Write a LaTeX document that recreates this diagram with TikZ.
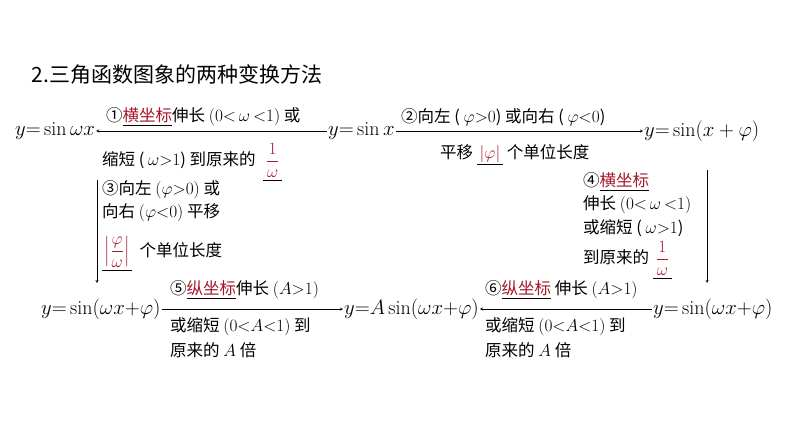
\documentclass[tikz,border=0pt]{standalone}
\usepackage{fontspec}
\usepackage{amsmath,amssymb}
\newfontfamily\cjk{Noto Sans CJK SC}
\definecolor{markred}{RGB}{165,25,40}
\newcommand{\hl}[1]{\underline{\textcolor{markred}{\cjk #1}}}
\newcommand{\fr}[2]{\underline{\,\textcolor{markred}{$\dfrac{#1}{#2}$}\,}}
\tikzset{
  lbl/.style={font=\fontsize{16.5}{19}\selectfont\cjk, inner sep=0pt, anchor=west},
  fn/.style={font=\fontsize{20}{22}\selectfont, inner sep=1pt},
  arr/.style={->,>=stealth, thin}
}
\begin{document}
\begin{tikzpicture}[x=1pt,y=-1pt]
\useasboundingbox (0,0) rectangle (794,447);

\node[anchor=west, font=\fontsize{21}{24}\selectfont\cjk] (title) at (28,75) {2.三角函数图象的两种变换方法};

% top row
\node[fn, anchor=west] (f1) at (14,131) {$y{=}\sin\omega x$};
\node[fn, anchor=west] (f0) at (327,131) {$y{=}\sin x$};
\node[fn, anchor=west] (f2) at (643,131) {$y{=}\sin(x+\varphi)$};
\draw[arr] (f0.west) -- (f1.east);
\draw[arr] (f0.east) -- (f2.west);

\node[lbl] (t1) at (106,117) {①\hl{横坐标}伸长 $(0{<}\,\omega\,{<}1)$ 或};
\node[lbl] (t1b) at (102,162) {缩短 ( $\omega{>}1$) 到原来的 \ \fr{1}{\omega}};
\node[lbl] (t2) at (401,117) {②向左 ( $\varphi{>}0$) 或向右 ( $\varphi{<}0$)};
\node[lbl] (t2b) at (440,155) {平移 \underline{\,\textcolor{markred}{$|\varphi|$}\,} 个单位长度};

% left column
\coordinate (l1) at (97,180);
\coordinate (l2) at (97,283);
\draw[arr] (l1) -- (l2);
\node[lbl] (t3) at (102,190) {③向左 $(\varphi{>}0)$ 或};
\node[lbl] (t3b) at (102,213) {向右 $(\varphi{<}0)$ 平移};
\node[lbl] (t3c) at (102,254) {\underline{\,\textcolor{markred}{$\left|\dfrac{\varphi}{\omega}\right|$}\,} \ 个单位长度};

% right column
\coordinate (r1) at (707,170);
\coordinate (r2) at (707,283);
\draw[arr] (r1) -- (r2);
\node[lbl] (t4) at (583,182) {④\hl{横坐标}};
\node[lbl] (t4b) at (583,205) {伸长 $(0{<}\,\omega\,{<}1)$};
\node[lbl] (t4c) at (583,228) {或缩短 ( $\omega{>}1$)};
\node[lbl] (t4d) at (583,260) {到原来的 \fr{1}{\omega}};

% bottom row
\node[fn, anchor=west] (f3) at (40,309) {$y{=}\sin(\omega x{+}\varphi)$};
\node[fn, anchor=west] (f4) at (343,309) {$y{=}A\sin(\omega x{+}\varphi)$};
\node[fn, anchor=west] (f5) at (652,309) {$y{=}\sin(\omega x{+}\varphi)$};
\draw[arr] (f3.east) -- (f4.west);
\draw[arr] (f5.west) -- (f4.east);

\node[lbl] (t5) at (170,290) {⑤\hl{纵坐标}伸长 $(A{>}1)$};
\node[lbl] (t5b) at (170,327) {或缩短 $(0{<}A{<}1)$ 到};
\node[lbl] (t5c) at (170,350) {原来的 $A$ 倍};
\node[lbl] (t6) at (485,290) {⑥\hl{纵坐标} 伸长 $(A{>}1)$};
\node[lbl] (t6b) at (485,327) {或缩短 $(0{<}A{<}1)$ 到};
\node[lbl] (t6c) at (485,350) {原来的 $A$ 倍};
\end{tikzpicture}
\end{document}
